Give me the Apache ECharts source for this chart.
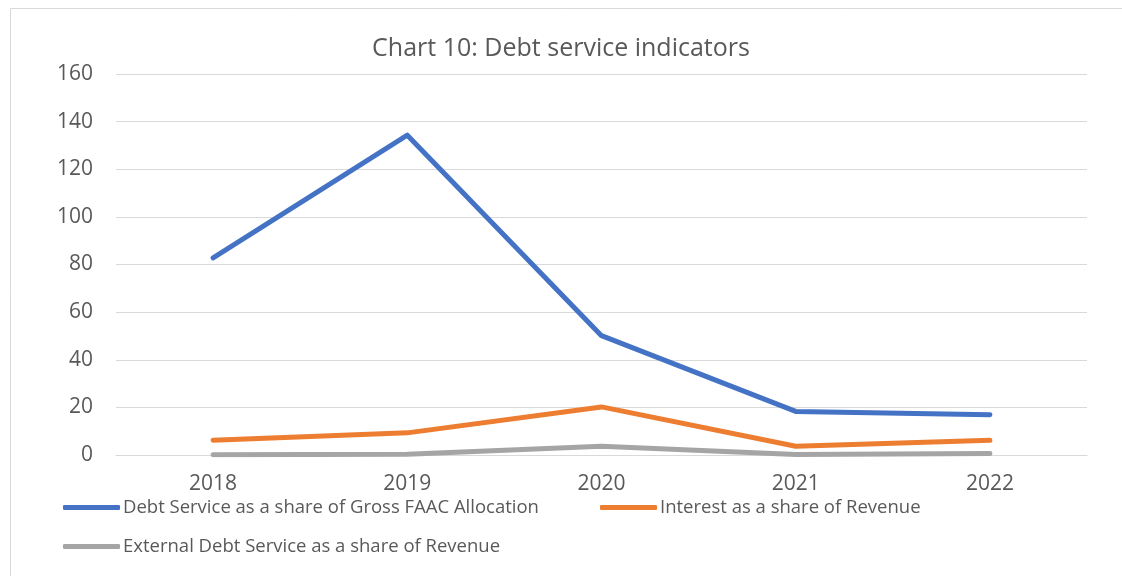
<!DOCTYPE html>
<html>
<head>
<meta charset="utf-8">
<script src="https://cdn.jsdelivr.net/npm/echarts@6/dist/echarts.min.js"></script>
<style>
    html, body { margin: 0; padding: 0; background: #fff; }
    #chart { width: 1122px; height: 576px; }
</style>
</head>
<body>
<div id="chart"></div>
<script>
    // data
    var years = ['2018', '2019', '2020', '2021', '2022'];
    var debtServiceFaac = [82.8, 134.3, 50.1, 18.3, 16.9];
    var interestRevenue = [6.2, 9.3, 20.2, 3.7, 6.2];
    var externalDebtRevenue = [0.1, 0.3, 3.7, 0.2, 0.6];
    var yTicks = { min: 0, max: 160, interval: 20 };

    var names = [
        'Debt Service as a share of Gross FAAC Allocation',
        'Interest as a share of Revenue',
        'External Debt Service as a share of Revenue'
    ];
    var colors = ['#4472C4', '#ED7D31', '#A5A5A5'];
    var font = '"Open Sans", "Noto Sans", sans-serif';

    function legendAt(name, left, top) {
        return {
            data: [name],
            left: left,
            top: top,
            selectedMode: false,
            icon: 'roundRect',
            itemWidth: 57,
            itemHeight: 5,
            itemGap: 0,
            padding: 0,
            textStyle: { color: '#595959', fontSize: 18.5, fontFamily: font, padding: [0, 0, 0, -2] }
        };
    }

    function lineSeries(i, data) {
        return {
            name: names[i],
            type: 'line',
            data: data,
            symbol: 'none',
            smooth: false,
            lineStyle: { width: 5, color: colors[i], cap: 'round', join: 'round' },
            itemStyle: { color: colors[i] }
        };
    }

    var myChart = echarts.init(document.getElementById('chart'));
    myChart.setOption({
        backgroundColor: '#fff',
        animation: false,
        title: {
            text: 'Chart 10: Debt service indicators',
            left: 'center',
            top: 31,
            textStyle: { color: '#595959', fontSize: 25, fontWeight: 'normal', fontFamily: font }
        },
        graphic: [{
            type: 'rect',
            shape: { x: 10.5, y: 8.5, width: 1200, height: 700 },
            style: { fill: 'none', stroke: '#d9d9d9', lineWidth: 1 },
            silent: true
        }],
        legend: [
            legendAt(names[0], 63, 498),
            legendAt(names[1], 600, 498),
            legendAt(names[2], 63, 537)
        ],
        grid: { left: 116, right: 35, top: 74, bottom: 121, containLabel: false },
        xAxis: {
            type: 'category',
            data: years,
            boundaryGap: true,
            axisLine: { show: true, lineStyle: { color: '#d9d9d9', width: 1 } },
            axisTick: { show: false },
            axisLabel: { color: '#595959', fontSize: 21, fontFamily: font, margin: 19 }
        },
        yAxis: {
            type: 'value',
            min: yTicks.min,
            max: yTicks.max,
            interval: yTicks.interval,
            axisLine: { show: false },
            axisTick: { show: false },
            axisLabel: { color: '#595959', fontSize: 21, fontFamily: font, margin: 23 },
            splitLine: { lineStyle: { color: '#d9d9d9', width: 1 } }
        },
        series: [
            lineSeries(0, debtServiceFaac),
            lineSeries(1, interestRevenue),
            lineSeries(2, externalDebtRevenue)
        ]
    });
</script>
</body>
</html>
